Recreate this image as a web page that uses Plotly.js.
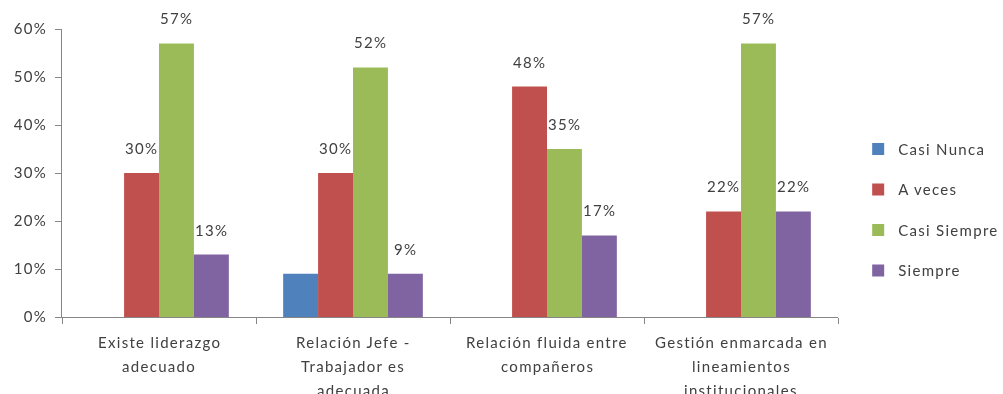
<!DOCTYPE html>
<html>
<head>
<meta charset="utf-8">
<script src="https://cdn.plot.ly/plotly-3.0.1.min.js"></script>
<style>
  html, body { margin: 0; padding: 0; background: #ffffff; }
  #chart { width: 1003px; height: 394px; filter: blur(0.4px); }
  svg text { letter-spacing: 1.3px; }
</style>
</head>
<body>
<div id="chart"></div>
<script>
// Category labels, one entry per line of each wrapped label
const categoryLines = [
  ['Existe liderazgo', 'adecuado'],
  ['Relación Jefe -', 'Trabajador es', 'adecuada'],
  ['Relación fluida entre', 'compañeros'],
  ['Gestión enmarcada en', 'lineamientos', 'institucionales']
];
const categories = ['Existe liderazgo adecuado', 'Relación Jefe - Trabajador es adecuada',
                    'Relación fluida entre compañeros', 'Gestión enmarcada en lineamientos institucionales'];

const seriesNames = ['Casi Nunca', 'A veces', 'Casi Siempre', 'Siempre'];
const casiNunca   = [0,    0.09, 0,    0];
const aVeces      = [0.30, 0.30, 0.48, 0.22];
const casiSiempre = [0.57, 0.52, 0.35, 0.57];
const siempre     = [0.13, 0.09, 0.17, 0.22];
const seriesValues = [casiNunca, aVeces, casiSiempre, siempre];
// which series carry value labels above their bars
const seriesLabeled = [false, true, true, true];
const seriesColors = ['#4F81BD', '#C0504D', '#9BBB59', '#8064A2'];

const yTickVals = [0, 0.1, 0.2, 0.3, 0.4, 0.5, 0.6];

const textColor = '#404040';
const axisColor = '#868686';
const fontFamily = 'Lato, "Open Sans", sans-serif';
const bargap = 0.28;

const traces = seriesNames.map((name, s) => ({
  type: 'bar',
  name: name,
  legendgroup: name,
  x: categories,
  y: seriesValues[s],
  marker: { color: seriesColors[s], line: { width: 0 } },
  hoverinfo: 'skip'
}));

const annotations = [];
const nSeries = seriesNames.length;
const slot = (1 - bargap) / nSeries;

// value labels above the bars
seriesValues.forEach((vals, s) => {
  if (!seriesLabeled[s]) return;
  vals.forEach((v, c) => {
    if (v <= 0) return;
    annotations.push({
      xref: 'x', yref: 'y',
      x: c + (s - (nSeries - 1) / 2) * slot,
      y: v,
      text: Math.round(v * 100) + '%',
      showarrow: false,
      xanchor: 'center', yanchor: 'bottom',
      yshift: 14,
      font: { family: fontFamily, size: 15, color: textColor }
    });
  });
});

// wrapped category labels under the axis
categoryLines.forEach((lines, c) => {
  lines.forEach((line, i) => {
    annotations.push({
      xref: 'x', yref: 'paper',
      x: c, y: 0,
      text: line,
      showarrow: false,
      xanchor: 'center', yanchor: 'middle',
      yshift: -25 - 24 * i,
      font: { family: fontFamily, size: 15, color: textColor }
    });
  });
});

const layout = {
  width: 1003,
  height: 394,
  margin: { l: 62, r: 165, t: 29, b: 77, autoexpand: false },
  paper_bgcolor: '#ffffff',
  plot_bgcolor: '#ffffff',
  barmode: 'group',
  bargap: bargap,
  bargroupgap: 0,
  font: { family: fontFamily, size: 15, color: textColor },
  xaxis: {
    type: 'category',
    range: [-0.5, 3.5],
    showline: true,
    linecolor: axisColor,
    linewidth: 1,
    ticks: 'outside',
    tickson: 'boundaries',
    ticklen: 6,
    tickcolor: axisColor,
    showticklabels: false,
    showgrid: false,
    zeroline: false,
    fixedrange: true
  },
  yaxis: {
    range: [0, 0.6],
    tickvals: yTickVals,
    tickformat: '.0%',
    showline: true,
    linecolor: axisColor,
    linewidth: 1,
    ticks: 'outside',
    ticklen: 6,
    tickcolor: axisColor,
    ticklabelstandoff: 5,
    tickfont: { family: fontFamily, size: 15, color: textColor },
    showgrid: false,
    zeroline: false,
    fixedrange: true
  },
  legend: {
    x: 1.026,
    xanchor: 'left',
    y: 0.64,
    yanchor: 'top',
    tracegroupgap: 18,
    traceorder: 'grouped',
    font: { family: fontFamily, size: 15, color: textColor },
    bgcolor: 'rgba(0,0,0,0)'
  },
  annotations: annotations,
  showlegend: true
};

Plotly.newPlot('chart', traces, layout, { displayModeBar: false, staticPlot: true });
</script>
</body>
</html>
